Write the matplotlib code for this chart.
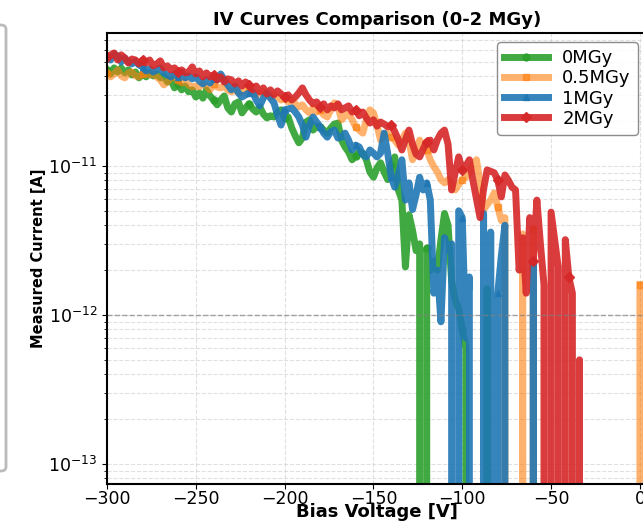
import numpy as np
import matplotlib
matplotlib.use('Agg')
import matplotlib.pyplot as plt
from matplotlib.patches import FancyBboxPatch

# bias sweep, 2 V steps
bias_v = np.arange(-300, 2, 2)

# measured currents in pA (negative readings drop off the log axis)
cur_0mgy = [44.1, 41.4, 45.5, 42.7, 45.5, 42.1, 44.1, 40.8, 42.7, 39.0, 41.4,
            39.6, 42.1, 40.2, 41.4, 39.0, 40.2, 36.6, 37.8, 33.4, 35.5,
            32.4, 34.4, 31.4, 32.4, 29.0, 30.9, 28.5, 32.4, 29.5, 27.7,
            25.7, 27.7, 29.5, 24.5, 23.0, 26.1, 26.9, 22.7, 24.5, 26.1,
            24.1, 23.0, 24.9, 22.3, 21.0, 21.7, 21.3, 23.0, 23.8, 21.0,
            21.3, 18.0, 15.9, 14.3, 15.4, 19.7, 20.4, 17.4, 18.5, 18.3,
            17.4, 16.6, 18.0, 19.1, 19.4, 14.9, 13.4, 12.4, 11.0, 11.7,
            12.4, 12.2, 11.0, 9.1, 8.4, 9.7, 10.5, 9.1, 8.1, 10.2,
            11.5, 6.9, 5.9, 2.1, 4.7, 3.7, 2.7, 3.0, -0.3, 2.8,
            2.0, 2.3, 2.0, 3.2, 4.8, 4.0, 1.7, 1.26, 1.1, 0.8,
            0.6, -0.3, -0.3, -0.3, -0.3, -0.3, 1.5, -0.3, -0.3, -0.3,
            -0.3, -0.3, -0.3, -0.3, -0.3, -0.3, -0.3, -0.3, -0.3, -0.3,
            -0.3, -0.3, -0.3, -0.3, -0.3, -0.3, -0.3, -0.3, -0.3, -0.3,
            -0.3, -0.3, -0.3, -0.3, -0.3, -0.3, -0.3, -0.3, -0.3, -0.3,
            -0.3, -0.3, -0.3, -0.3, -0.3, -0.3, -0.3, -0.3, -0.3, -0.3]

cur_05mgy = [42.1, 39.6, 41.4, 44.1, 40.2, 39.0, 42.1, 42.7, 40.2, 39.6, 41.4,
             42.1, 40.8, 41.4, 39.6, 37.8, 35.0, 36.6, 39.0, 39.6, 37.8,
             36.0, 36.6, 35.0, 33.9, 34.4, 33.9, 35.5, 34.4, 32.4, 35.5,
             33.9, 33.4, 34.4, 32.4, 31.4, 32.4, 30.9, 31.4, 32.4, 33.4,
             31.4, 30.0, 30.9, 31.4, 30.4, 29.0, 30.0, 29.0, 27.7, 28.5,
             26.9, 27.7, 26.1, 24.9, 25.7, 23.8, 22.7, 24.5, 23.0, 23.8,
             22.0, 21.3, 23.8, 26.5, 25.3, 20.4, 21.7, 22.7, 20.4, 18.3,
             17.4, 16.6, 20.4, 23.8, 22.7, 18.8, 14.9, 16.2, 16.6, 15.6,
             14.9, 13.8, 14.9, 16.6, 14.9, 11.0, 12.8, 14.9, 13.4, 12.8,
             11.0, 9.9, 9.1, 8.1, 7.7, 8.1, 7.5, 6.9, 7.5, 8.1,
             8.4, 9.0, 10.2, 11.0, 7.7, 5.1, 5.5, 5.9, 6.6, 5.3,
             4.3, 4.5, -0.3, -0.3, -0.3, -0.3, 3.5, -0.3, -0.3, 3.8,
             -0.3, -0.3, -0.3, -0.3, -0.3, -0.3, -0.3, -0.3, -0.3, -0.3,
             -0.3, -0.3, -0.3, -0.3, -0.3, -0.3, -0.3, -0.3, -0.3, -0.3,
             -0.3, -0.3, -0.3, -0.3, -0.3, -0.3, -0.3, -0.3, -0.3, 1.6]

cur_1mgy = [53.9, 51.4, 56.4, 54.8, 49.9, 53.1, 49.9, 48.4, 50.7, 47.6, 46.2,
            43.4, 44.8, 42.7, 44.1, 45.5, 42.1, 40.8, 39.6, 41.4, 39.6,
            42.7, 39.0, 40.2, 38.4, 39.6, 37.2, 35.5, 37.8, 36.0, 39.0,
            37.8, 41.4, 37.8, 35.0, 32.4, 34.4, 30.9, 29.0, 30.0, 30.9,
            31.4, 27.7, 25.3, 28.5, 30.9, 28.5, 26.5, 22.0, 18.8, 23.8,
            24.1, 24.5, 23.0, 21.3, 18.8, 15.6, 18.8, 21.3, 19.7, 18.3,
            16.6, 15.6, 17.0, 17.4, 15.4, 15.6, 16.6, 14.9, 12.8, 13.8,
            13.4, 11.9, 11.5, 12.8, 12.2, 11.5, 12.2, 16.6, 12.2, 8.4,
            7.2, 8.7, 11.0, 5.9, 7.7, 5.1, 6.4, 8.4, 6.9, 7.7,
            5.9, 1.4, 2.0, 0.9, 3.3, 2.7, 3.0, -0.3, 5.0, 4.5,
            0.7, 1.8, -0.3, -0.3, -0.3, 4.8, -0.3, 3.6, -0.3, 1.4,
            2.5, 4.0, -0.3, -0.3, -0.3, -0.3, -0.3, -0.3, -0.3, 2.3,
            -0.3, -0.3, -0.3, -0.3, -0.3, -0.3, -0.3, -0.3, -0.3, -0.3,
            -0.3, -0.3, -0.3, -0.3, -0.3, -0.3, -0.3, -0.3, -0.3, -0.3,
            -0.3, -0.3, -0.3, -0.3, -0.3, -0.3, -0.3, -0.3, -0.3, -0.3]

cur_2mgy = [53.9, 55.6, 57.3, 51.4, 55.6, 53.1, 49.1, 52.2, 51.4, 48.4, 51.4,
            49.1, 51.4, 46.9, 48.4, 50.7, 45.5, 46.9, 44.1, 45.5, 42.7,
            44.1, 42.1, 42.7, 46.2, 41.4, 43.4, 39.6, 42.1, 39.6, 40.8,
            37.8, 39.6, 36.6, 38.4, 37.8, 35.5, 37.2, 34.4, 36.6, 35.0,
            32.4, 34.4, 31.4, 33.4, 30.4, 32.4, 30.0, 31.9, 30.4, 29.0,
            30.0, 27.7, 29.0, 30.9, 33.4, 30.0, 27.7, 26.1, 26.9, 24.9,
            26.1, 23.8, 25.3, 24.5, 26.1, 23.8, 24.5, 25.3, 23.0, 23.8,
            21.7, 23.0, 21.0, 19.4, 20.4, 18.5, 19.7, 19.1, 18.3, 18.8,
            17.0, 15.0, 12.8, 15.0, 17.4, 14.0, 12.0, 11.5, 13.0, 14.5,
            14.9, 12.8, 15.0, 16.6, 17.4, 14.0, 6.9, 9.0, 11.5, 9.4,
            10.0, 11.0, 8.0, 6.0, 4.5, 7.0, 9.4, 9.2, 9.0, 8.0,
            6.2, 8.7, 8.0, 7.2, 6.9, 2.0, 3.3, 1.4, 4.5, 2.3,
            5.9, 3.0, 1.6, -0.3, 4.9, 3.2, 2.1, -0.3, 3.2, 1.8,
            1.4, -0.3, 0.5, -0.3, -0.3, -0.3, -0.3, -0.3, -0.3, -0.3,
            -0.3, -0.3, -0.3, -0.3, -0.3, -0.3, -0.3, -0.3, -0.3, -0.3]

labels = ['0MGy', '0.5MGy', '1MGy', '2MGy']
colors = ['#2ca02c', '#ff7f0e', '#1f77b4', '#d62728']
alphas = [0.9, 0.6, 0.9, 0.9]
markers = ['o', 's', '^', 'D']

fig = plt.figure(figsize=(6.43, 5.22), dpi=100)
ax = fig.add_axes([107 / 643, 1 - 484 / 522, 540 / 643, (484 - 33) / 522])

# edge of the neighbouring panel's box
fig.patches.append(FancyBboxPatch((-0.2, 1 - 471 / 522), 0.2 + 6 / 643, (471 - 25) / 522,
                                  boxstyle='round,pad=0,rounding_size=0.008',
                                  transform=fig.transFigure, facecolor='white',
                                  edgecolor='#bbbbbb', linewidth=2))

for cur, lab, col, a, m in zip([cur_0mgy, cur_05mgy, cur_1mgy, cur_2mgy], labels, colors, alphas, markers):
    ax.plot(bias_v, np.array(cur) * 1e-12, color=col, alpha=a, lw=5,
            marker=m, markersize=5, markevery=10, label=lab)

ax.set_yscale('log')
ax.set_xlim(-300, 4)
ax.set_ylim(7.34e-14, 7.8e-11)
ax.axhline(1e-12, color='gray', linestyle='--', linewidth=1, alpha=0.7)
ax.grid(True, which='both', linestyle='--', color='#cccccc', alpha=0.6)

ax.set_title('IV Curves Comparison (0-2 MGy)', fontsize=13, fontweight='bold', pad=6)
ax.set_xlabel('Bias Voltage [V]', fontsize=13, fontweight='bold', labelpad=-3.5)
ax.set_ylabel('Measured Current [A]', fontsize=10.5, fontweight='bold', labelpad=1.5)
ax.tick_params(axis='both', which='major', labelsize=12.5)
ax.tick_params(axis='x', pad=1)
for s in ax.spines.values():
    s.set_linewidth(1.5)

ax.legend(loc='upper right', fontsize=13, framealpha=0.9, edgecolor='gray',
          labelspacing=0.12, handlelength=2.4, borderaxespad=0.5)

fig.savefig('out.png', dpi=100)
